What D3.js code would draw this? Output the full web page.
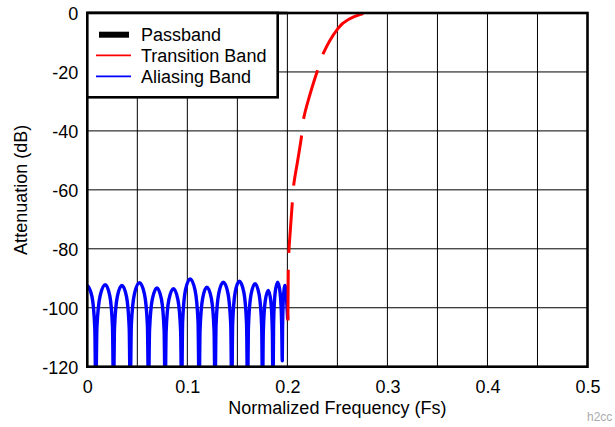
<!DOCTYPE html>
<html><head><meta charset="utf-8">
<script src="https://cdn.jsdelivr.net/npm/d3@7"></script>
<style>body{margin:0;background:#fff}svg{display:block}</style>
</head><body><svg id="c" width="615" height="427"></svg>
<script>
// ---- data ----
const xTicks = [0, 0.1, 0.2, 0.3, 0.4, 0.5];
const xGrid = [0.05, 0.1, 0.15, 0.2, 0.25, 0.3, 0.35, 0.4, 0.45];
const yTicks = [0, -20, -40, -60, -80, -100, -120];
const yGrid = [-20, -40, -60, -80, -100];

const passFreq = [0, 0.2];
const passDb = [0, 0];

const transFreq = [0.2005, 0.2007, 0.2009, 0.2014, 0.2031, 0.2049, 0.2061, 0.2101, 0.2141, 0.2161, 0.2226, 0.2302, 0.2365, 0.2425, 0.2492, 0.2558, 0.2657, 0.2758];
const transDb = [-104.3, -95.8, -87.3, -81.5, -73.0, -64.4, -59.0, -50.5, -41.9, -36.1, -27.6, -19.4, -13.3, -9.3, -5.9, -3.4, -1.4, -0.2];

const aliasFreq = [
  0, 0.0047, 0.0075, 0.0085,
  0.0096, 0.0128, 0.0180, 0.0225, 0.0252, 0.0262,
  0.0272, 0.0300, 0.0346, 0.0392, 0.0419, 0.0429,
  0.0440, 0.0471, 0.0522, 0.0571, 0.0601, 0.0612,
  0.0622, 0.0650, 0.0696, 0.0741, 0.0768, 0.0778,
  0.0788, 0.0815, 0.0861, 0.0906, 0.0933, 0.0943,
  0.0953, 0.0981, 0.1028, 0.1077, 0.1107, 0.1118,
  0.1127, 0.1153, 0.1195, 0.1240, 0.1267, 0.1277,
  0.1287, 0.1314, 0.1360, 0.1406, 0.1434, 0.1444,
  0.1453, 0.1478, 0.1520, 0.1565, 0.1592, 0.1602,
  0.1611, 0.1636, 0.1677, 0.1718, 0.1743, 0.1752,
  0.1759, 0.1778, 0.1809, 0.1835, 0.1850, 0.1856,
  0.1862, 0.1877, 0.1903, 0.1928, 0.1943, 0.1949,
  0.1952, 0.1961, 0.1976, 0.1990, 0.2003
];
const aliasDb = [
  -92.4, -96.2, -106.9, -130,
  -106.7, -96.0, -92.2, -96.0, -106.7, -130,
  -106.9, -96.2, -92.4, -96.2, -106.9, -130,
  -106.0, -95.3, -91.5, -95.3, -106.0, -130,
  -107.8, -97.1, -93.3, -97.1, -107.8, -130,
  -108.0, -97.3, -93.5, -97.3, -108.0, -130,
  -104.7, -94.0, -90.2, -94.0, -104.7, -130,
  -107.5, -96.8, -93.0, -96.8, -107.5, -130,
  -105.8, -95.1, -91.3, -95.1, -105.8, -130,
  -105.5, -94.8, -91.0, -94.8, -105.5, -130,
  -106.3, -95.6, -91.8, -95.6, -106.3, -130,
  -108.6, -97.9, -94.1, -97.9, -108.6, -130,
  -105.8, -95.1, -91.3, -95.1, -105.8, -118,
  -106.9, -96.2, -92.4, -96.2, -104
];

const legendLabels = ["Passband", "Transition Band", "Aliasing Band"];
const legendColors = ["#000000", "#ff0000", "#0000ff"];
const xTitle = "Normalized Frequency (Fs)";
const yTitle = "Attenuation (dB)";
const watermark = "h2cc";

// ---- drawing ----
const svg = d3.select("#c");
const FONT = "Arial, 'Liberation Sans', Helvetica, sans-serif";
const x = d3.scaleLinear().domain([0, 0.5]).range([87.3, 587.5]);
const y = d3.scaleLinear().domain([0, -120]).range([13, 366.7]);

svg.append("rect").attr("width", 615).attr("height", 427).attr("fill", "#fff");

svg.append("defs").append("clipPath").attr("id", "clip")
  .append("rect").attr("x", x(0)).attr("y", y(0)).attr("width", x(0.5) - x(0)).attr("height", y(-120) - y(0));

const grid = svg.append("g").attr("stroke", "#000").attr("stroke-width", 1);
grid.selectAll("line.v").data(xGrid).join("line").attr("class", "v")
  .attr("x1", d => x(d)).attr("x2", d => x(d)).attr("y1", y(0)).attr("y2", y(-120));
grid.selectAll("line.h").data(yGrid).join("line").attr("class", "h")
  .attr("x1", x(0)).attr("x2", x(0.5)).attr("y1", d => y(d)).attr("y2", d => y(d));

const plot = svg.append("g").attr("clip-path", "url(#clip)");
const lineAlias = d3.line().x((d, i) => x(aliasFreq[i])).y((d, i) => y(aliasDb[i])).curve(d3.curveMonotoneX);
plot.append("path").attr("d", lineAlias(aliasFreq)).attr("fill", "none")
  .attr("stroke", "#0000ff").attr("stroke-width", 3.4).attr("stroke-linejoin", "round");

const lineTrans = d3.line().x((d, i) => x(transFreq[i])).y((d, i) => y(transDb[i])).curve(d3.curveMonotoneY);
plot.append("path").attr("d", lineTrans(transFreq)).attr("fill", "none")
  .attr("stroke", "#ff0000").attr("stroke-width", 3)
  .attr("stroke-dasharray", "50.7,16.8,50.7,16.8,50.7,16.8,50.7,16.8,64,20");

const linePass = d3.line().x((d, i) => x(passFreq[i])).y((d, i) => y(passDb[i]));
svg.append("path").attr("d", linePass(passFreq)).attr("fill", "none")
  .attr("stroke", "#000").attr("stroke-width", 2.6);

// frame
svg.append("rect").attr("x", x(0)).attr("y", y(0)).attr("width", x(0.5) - x(0)).attr("height", y(-120) - y(0))
  .attr("fill", "none").attr("stroke", "#000").attr("stroke-width", 2.6);

// axes
const yAxis = d3.axisLeft(y).tickValues(yTicks).tickSize(0).tickPadding(9).tickFormat(d => String(d));
const gy = svg.append("g").attr("transform", `translate(${x(0)},0)`).call(yAxis);
gy.select(".domain").remove();
gy.selectAll("text").attr("font-family", FONT).attr("font-size", 18).attr("fill", "#000").attr("dy", "0.36em");

const xAxis = d3.axisBottom(x).tickValues(xTicks).tickSize(0).tickPadding(13.5)
  .tickFormat(d => d === 0 ? "0" : d.toFixed(1));
const gx = svg.append("g").attr("transform", `translate(0,${y(-120)})`).call(xAxis);
gx.select(".domain").remove();
gx.selectAll("text").attr("font-family", FONT).attr("font-size", 18).attr("fill", "#000");

svg.append("text").attr("x", (x(0) + x(0.5)) / 2).attr("y", 414).attr("text-anchor", "middle")
  .attr("font-family", FONT).attr("font-size", 18).text(xTitle);
svg.append("text").attr("transform", `translate(27,${(y(0) + y(-120)) / 2}) rotate(-90)`).attr("text-anchor", "middle")
  .attr("font-family", FONT).attr("font-size", 18).text(yTitle);

svg.append("text").attr("x", 587).attr("y", 421).attr("font-family", FONT).attr("font-size", 12)
  .attr("fill", "#aaa").text(watermark);

// legend
const lg = svg.append("g");
lg.append("rect").attr("x", x(0)).attr("y", y(0)).attr("width", 190.4).attr("height", 84.3)
  .attr("fill", "#fff").attr("stroke", "#000").attr("stroke-width", 2.6);
const rows = [34.7, 55.3, 76.3];
legendLabels.forEach((lab, i) => {
  if (i === 0) {
    lg.append("rect").attr("x", 99).attr("y", rows[i] - 3).attr("width", 30).attr("height", 6).attr("fill", legendColors[i]);
  } else {
    lg.append("line").attr("x1", 96).attr("x2", 131).attr("y1", rows[i]).attr("y2", rows[i])
      .attr("stroke", legendColors[i]).attr("stroke-width", 1.7);
  }
  lg.append("text").attr("x", 141).attr("y", rows[i] + 6.3).attr("font-family", FONT).attr("font-size", 18)
    .attr("fill", "#000").text(lab);
});
</script></body></html>
